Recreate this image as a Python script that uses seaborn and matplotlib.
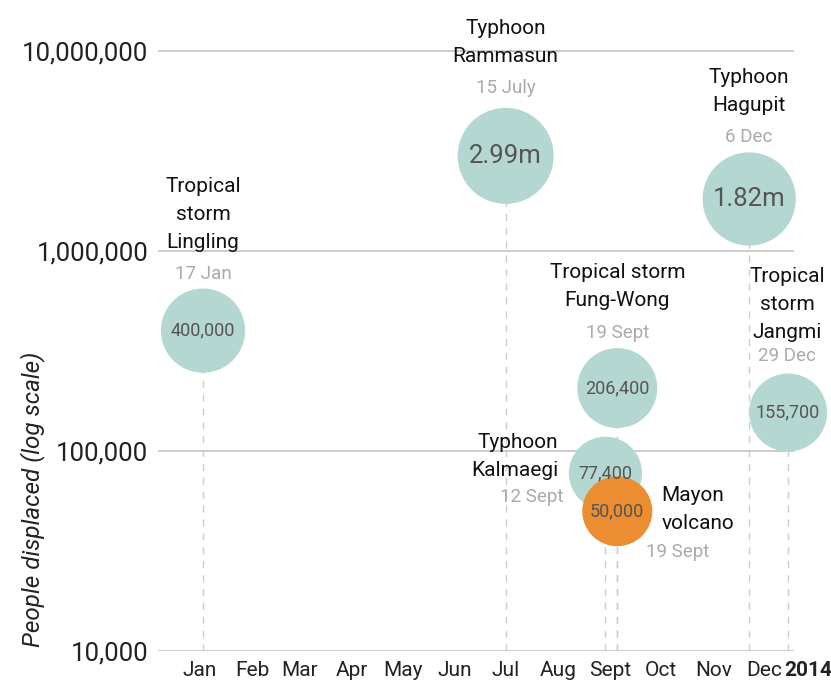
import matplotlib
matplotlib.use("Agg")
import matplotlib.pyplot as plt
from matplotlib.colors import LogNorm
import seaborn as sns
import pandas as pd

# ---- data ----
names = ['Tropical\nstorm\nLingling', 'Typhoon\nRammasun', 'Typhoon\nKalmaegi',
         'Tropical storm\nFung-Wong', 'Mayon\nvolcano', 'Typhoon\nHagupit',
         'Tropical\nstorm\nJangmi']
dates = ['2014-01-17', '2014-07-15', '2014-09-12', '2014-09-19', '2014-09-19',
         '2014-12-06', '2014-12-29']
date_labels = ['17 Jan', '15 July', '12 Sept', '19 Sept', '19 Sept', '6 Dec', '29 Dec']
displaced = [400000, 2990000, 77400, 206400, 50000, 1820000, 155700]
kinds = ['storm', 'storm', 'storm', 'storm', 'volcano', 'storm', 'storm']
month_labels = ['Jan', 'Feb', 'Mar', 'Apr', 'May', 'Jun', 'Jul', 'Aug', 'Sept',
                'Oct', 'Nov', 'Dec']
year_label = '2014'
ytick_values = [10000, 100000, 1000000, 10000000]
ytick_labels = ['10,000', '100,000', '1,000,000', '10,000,000']

df = pd.DataFrame({'name': names, 'date': pd.to_datetime(dates),
                   'date_label': date_labels, 'displaced': displaced,
                   'kind': kinds})
df['doy'] = df['date'].dt.dayofyear

# ---- style ----
sns.set_theme(style='white')
FAM = ['Roboto', 'DejaVu Sans']
plt.rcParams['font.family'] = FAM

fig = plt.figure(figsize=(8.31, 6.84), dpi=100)
ax = fig.add_axes([158 / 831, 33 / 684, (794 - 158) / 831, 651 / 684])

# dashed drop lines
ax.vlines(df['doy'], 10000, df['displaced'], colors='#cccccc',
          linestyles=(0, (5, 5)), linewidth=1, zorder=1)

sns.scatterplot(data=df, x='doy', y='displaced', hue='kind',
                palette={'storm': '#b4d8d1', 'volcano': '#eb8d30'},
                size='displaced', size_norm=LogNorm(50000, 2990000),
                sizes=(2540, 4780), linewidth=0, alpha=1, legend=False,
                ax=ax, zorder=3, clip_on=False)

ax.set_yscale('log')
ax.set_ylim(10000, 10 ** (4 + 651 / 200))
ax.set_xlim(-9.6, 366.5)
ax.minorticks_off()
ax.set_yticks(ytick_values)
ax.set_yticklabels(ytick_labels)
mid_month = [pd.Timestamp(f'2014-{m:02d}-15').dayofyear for m in range(1, 13)]
ax.set_xticks(mid_month)
ax.set_xticklabels(month_labels)
ax.tick_params(axis='y', length=0, pad=7, labelsize=18.5, labelcolor='#222222')
ax.tick_params(axis='x', length=0, pad=7, labelsize=15, labelcolor='#222222')
ax.grid(axis='y', color='#cccccc', linewidth=1.4)
ax.grid(axis='x', visible=False)
ax.set_axisbelow(True)
for s in ax.spines.values():
    s.set_visible(False)
ax.set_xlabel('')
ax.set_ylabel('People displaced (log scale)', fontsize=17.5, style='italic',
              color='#222222')
ax.yaxis.set_label_coords(-0.178, 0.233)

ax.annotate(year_label, xy=(375, 0), xycoords=('data', 'axes fraction'),
            xytext=(0, -7), textcoords='offset points', ha='center', va='top',
            fontsize=15, fontweight='bold', color='#222222', annotation_clip=False)

# label layout (pixel offsets from bubble centre)
layout = {
    'Tropical\nstorm\nLingling': dict(name=(0, 116, 'center'), date=(0, 57, 'center')),
    'Typhoon\nRammasun': dict(name=(0, 113, 'center'), date=(0, 68, 'center')),
    'Typhoon\nHagupit': dict(name=(0, 107, 'center'), date=(0, 62, 'center')),
    'Tropical storm\nFung-Wong': dict(name=(0, 102, 'center'), date=(0, 55, 'center')),
    'Tropical\nstorm\nJangmi': dict(name=(-1, 108, 'center'), date=(-1, 57, 'center')),
    'Typhoon\nKalmaegi': dict(name=(-47, 17, 'right'), date=(-42, -24, 'right')),
    'Mayon\nvolcano': dict(name=(44, 2, 'left'), date=(29, -41, 'left')),
}

for _, r in df.iterrows():
    lay = layout[r['name']]
    dx, dy, ha = lay['name']
    ax.annotate(r['name'], xy=(r['doy'], r['displaced']), xytext=(dx, dy),
                textcoords='offset pixels', ha=ha, va='center', multialignment=ha,
                fontsize=15, color='#111111', linespacing=1.6,
                annotation_clip=False, zorder=5)
    dx, dy, ha = lay['date']
    ax.annotate(r['date_label'], xy=(r['doy'], r['displaced']), xytext=(dx, dy),
                textcoords='offset pixels', ha=ha, va='center',
                fontsize=13.5, color='#aaaaaa', annotation_clip=False, zorder=5)
    v = r['displaced']
    if v >= 1e6:
        txt, fs = f'{v / 1e6:.2f}m', 18.5
    else:
        txt, fs = f'{v:,}', 13
    ax.annotate(txt, xy=(r['doy'], v), ha='center', va='center', fontsize=fs,
                color='#555555', annotation_clip=False, zorder=6)

fig.savefig('out.png', dpi=100)
